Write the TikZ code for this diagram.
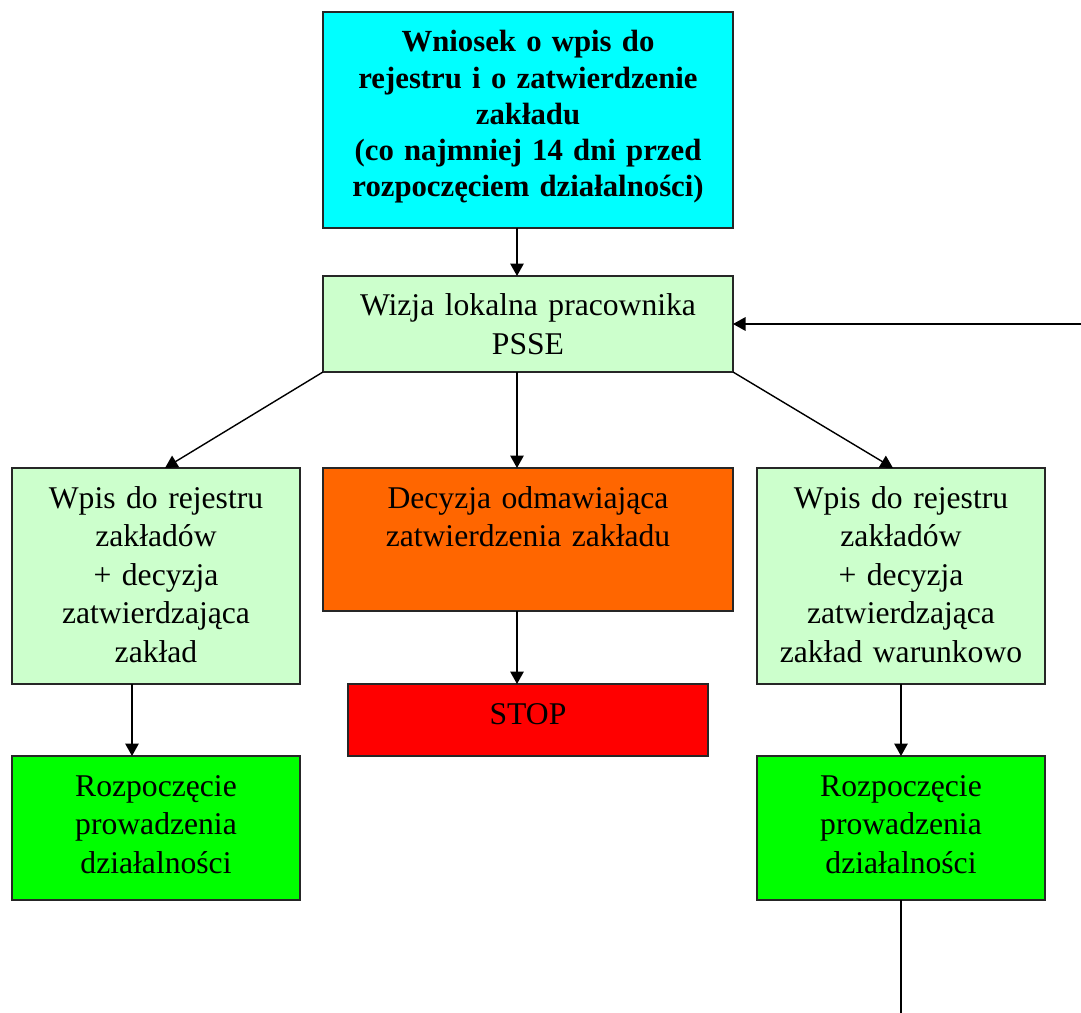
\documentclass[tikz,border=0pt]{standalone}
\usepackage{fontspec}
\setmainfont{Liberation Serif}
\usetikzlibrary{positioning,calc,arrows.meta}

\newlength\pxu
\setlength\pxu{0.02cm}

\definecolor{kolcyan}{HTML}{00FFFF}
\definecolor{kolblady}{HTML}{CCFFCC}
\definecolor{kolpom}{HTML}{FF6600}
\definecolor{kolczer}{HTML}{FF0000}
\definecolor{kolziel}{HTML}{00FF00}

\tikzset{
	box/.style n args={3}{draw=black!85, line width=0.8pt, fill=#3, anchor=north west,
		inner xsep=3pt, inner ysep=0pt, outer sep=0pt, align=center,
		minimum width=#1\pxu, text width=#1\pxu-6pt,
		text height=40\pxu, text depth=#2\pxu-40\pxu,
		font=\fontsize{18}{22}\selectfont},
	arr/.style={line width=0.8pt, -{Triangle[length=0.25cm, width=0.27cm]}},
}

\begin{document}
\begin{tikzpicture}[x=0.02cm, y=-0.02cm]
	\useasboundingbox (0,0) rectangle (1081,1013);

	\node[box={410}{216}{kolcyan}, font=\fontsize{17.5}{20.5}\selectfont\bfseries] (wniosek) at (323,12)
		{Wniosek o wpis do\\rejestru i o zatwierdzenie\\zakładu\\(co najmniej 14 dni przed\\rozpoczęciem działalności)};
	\node[box={410}{96}{kolblady}] (wizja) at (323,276) {Wizja lokalna pracownika\\PSSE};

	\node[box={288}{216}{kolblady}] (wpisl) at (12,468) {Wpis do rejestru\\zakładów\\+ decyzja\\zatwierdzająca\\zakład};
	\node[box={410}{143}{kolpom}] (odmowa) at (323,468) {Decyzja odmawiająca\\zatwierdzenia zakładu};
	\node[box={288}{216}{kolblady}] (wpisr) at (757,468) {Wpis do rejestru\\zakładów\\+ decyzja\\zatwierdzająca\\zakład warunkowo};

	\node[box={360}{72}{kolczer}] (stop) at (348,684) {STOP};
	\node[box={288}{144}{kolziel}] (startl) at (12,756) {Rozpoczęcie\\prowadzenia\\działalności};
	\node[box={288}{144}{kolziel}] (startr) at (757,756) {Rozpoczęcie\\prowadzenia\\działalności};

	\coordinate (wej) at (1081,324);
	\coordinate (wyj) at (901,1013);

	\draw[arr] ([xshift=-0.22cm]wniosek.south) -- ([xshift=-0.22cm]wizja.north);
	\draw[arr] (wej) -- (wizja.east);
	\draw[arr] (wizja.south west) -- ([xshift=0.18cm]wpisl.north);
	\draw[arr] ([xshift=-0.22cm]wizja.south) -- ([xshift=-0.22cm]odmowa.north);
	\draw[arr] (wizja.south east) -- ([xshift=-0.16cm]wpisr.north);
	\draw[arr] ([xshift=-0.22cm]odmowa.south) -- ([xshift=-0.22cm]stop.north);
	\draw[arr] ([xshift=-0.48cm]wpisl.south) -- ([xshift=-0.48cm]startl.north);
	\draw[arr] (wpisr.south) -- (startr.north);
	\draw[line width=0.8pt] (startr.south) -- (wyj);
\end{tikzpicture}
\end{document}
